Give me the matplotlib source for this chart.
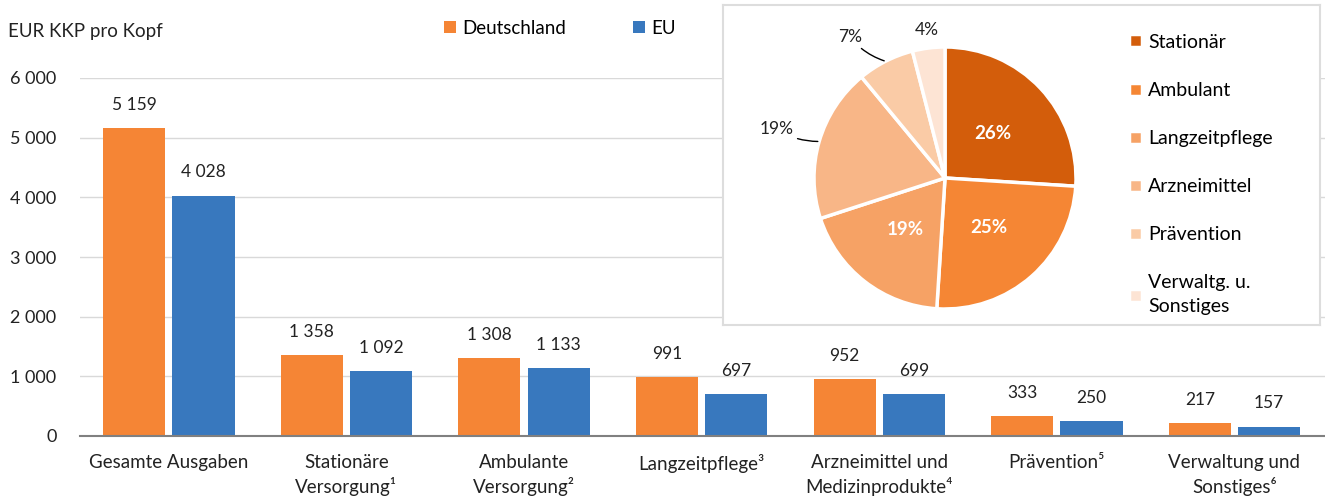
import numpy as np
import matplotlib.pyplot as plt
from matplotlib.ticker import FuncFormatter

plt.rcParams['font.family'] = ['Lato', 'DejaVu Sans']

# Balkendaten
categories = ['Gesamte Ausgaben', 'Stationäre\nVersorgung¹', 'Ambulante\nVersorgung²',
              'Langzeitpflege³', 'Arzneimittel und\nMedizinprodukte⁴', 'Prävention⁵',
              'Verwaltung und\nSonstiges⁶']
deutschland = [5159, 1358, 1308, 991, 952, 333, 217]
eu = [4028, 1092, 1133, 697, 699, 250, 157]

# Kreisdiagramm
pie_labels = ['Stationär', 'Ambulant', 'Langzeitpflege', 'Arzneimittel', 'Prävention',
              'Verwaltg. u.\nSonstiges']
pie_shares = [26, 25, 19, 19, 7, 4]
pie_colors = ['#D35D0B', '#F58634', '#F6A265', '#F8B687', '#FACBA6', '#FDE4D4']

orange = '#F58535'
blue = '#3878BE'
W, H = 1325, 499


def fmt(v, pos=None):
    return f'{int(v):,}'.replace(',', ' ')


fig = plt.figure(figsize=(W / 100, H / 100), dpi=100)
ax = fig.add_axes([80 / W, 1 - 436 / H, 1 - 80 / W, (436 - 78) / H])

x = np.arange(len(categories))
w = 0.35
off = 0.195
b1 = ax.bar(x - off, deutschland, w, color=orange, label='Deutschland', zorder=3)
b2 = ax.bar(x + off, eu, w, color=blue, label='EU', zorder=3)
for bars in (b1, b2):
    for r in bars:
        ax.annotate(fmt(r.get_height()), (r.get_x() + r.get_width() / 2, r.get_height()),
                    xytext=(0, 11), textcoords='offset points', ha='center', va='bottom',
                    fontsize=12.5, color='#222222')

ax.set_xlim(-0.5, 6.51)
ax.set_ylim(0, 6000)
ax.set_yticks(range(0, 7000, 1000))
ax.yaxis.set_major_formatter(FuncFormatter(fmt))
ax.set_xticks(x, categories)
for t in ax.get_xticklabels():
    t.set_linespacing(1.4)
ax.tick_params(axis='x', length=0, pad=13, labelsize=13.5, colors='#222222')
ax.tick_params(axis='y', length=0, pad=17, labelsize=13, colors='#222222')
ax.grid(axis='y', color='#D9D9D9', linewidth=1, zorder=0)
for s in ['top', 'right', 'left']:
    ax.spines[s].set_visible(False)
ax.spines['bottom'].set_color('#808080')
ax.spines['bottom'].set_linewidth(1.5)
ax.spines['bottom'].set_zorder(4)

fig.text(8 / W, 1 - 32 / H, 'EUR KKP pro Kopf', fontsize=13.5, va='center', color='#222222')
fig.legend(handles=[b1, b2], loc='center left', bbox_to_anchor=(444 / W, 1 - 28 / H),
           ncol=2, frameon=False, fontsize=13.5, handlelength=0.65, handleheight=0.65,
           handletextpad=0.3, columnspacing=3.6, borderpad=0, borderaxespad=0)

# Kasten mit Kreisdiagramm
box = fig.add_axes([723 / W, 1 - 325 / H, (1320 - 723) / W, (325 - 5) / H])
box.set_xticks([])
box.set_yticks([])
box.set_facecolor('white')
for s in box.spines.values():
    s.set_color('#DDDDDD')
    s.set_linewidth(1.5)

r_px = 131
cx, cy = 945, 178
half = 1.45 * r_px
pax = fig.add_axes([(cx - half) / W, 1 - (cy + half) / H, 2 * half / W, 2 * half / H])
wedges, _ = pax.pie(pie_shares, colors=pie_colors, startangle=90, counterclock=False,
                    radius=1, wedgeprops=dict(edgecolor='white', linewidth=2.5))
pax.set_xlim(-1.45, 1.45)
pax.set_ylim(-1.45, 1.45)
pax.axis('off')

for i, (wd, v) in enumerate(zip(wedges, pie_shares)):
    ang = np.deg2rad((wd.theta1 + wd.theta2) / 2)
    if i < 3:
        d = 0.5
        pax.text(d * np.cos(ang), d * np.sin(ang), f'{v}%', ha='center', va='center',
                 color='white', fontsize=13.5, fontweight='bold')
    elif i == 5:
        d = 1.14
        pax.text(d * np.cos(ang), d * np.sin(ang), f'{v}%', ha='center', va='center',
                 fontsize=12.5, color='#222222')
    else:
        d = 1.34 if i == 3 else 1.3
        dang = ang + (np.deg2rad(7) if i == 4 else 0)
        pax.annotate(f'{v}%', xy=(1.0 * np.cos(ang), 1.0 * np.sin(ang)),
                     xytext=(d * np.cos(dang), d * np.sin(dang)), ha='center', va='center',
                     fontsize=12.5, color='#222222',
                     arrowprops=dict(arrowstyle='-', color='black', lw=1,
                                     shrinkA=1, shrinkB=1,
                                     connectionstyle='arc3,rad=0.15'))

leg = box.legend(wedges, pie_labels, loc='upper left', bbox_to_anchor=(0.68, 0.91),
                 frameon=False, fontsize=14, handlelength=0.65, handleheight=0.65,
                 handletextpad=0.35, labelspacing=1.6, borderpad=0, borderaxespad=0)
for t in leg.get_texts():
    t.set_linespacing(1.5)

fig.savefig('out.png', dpi=100)
